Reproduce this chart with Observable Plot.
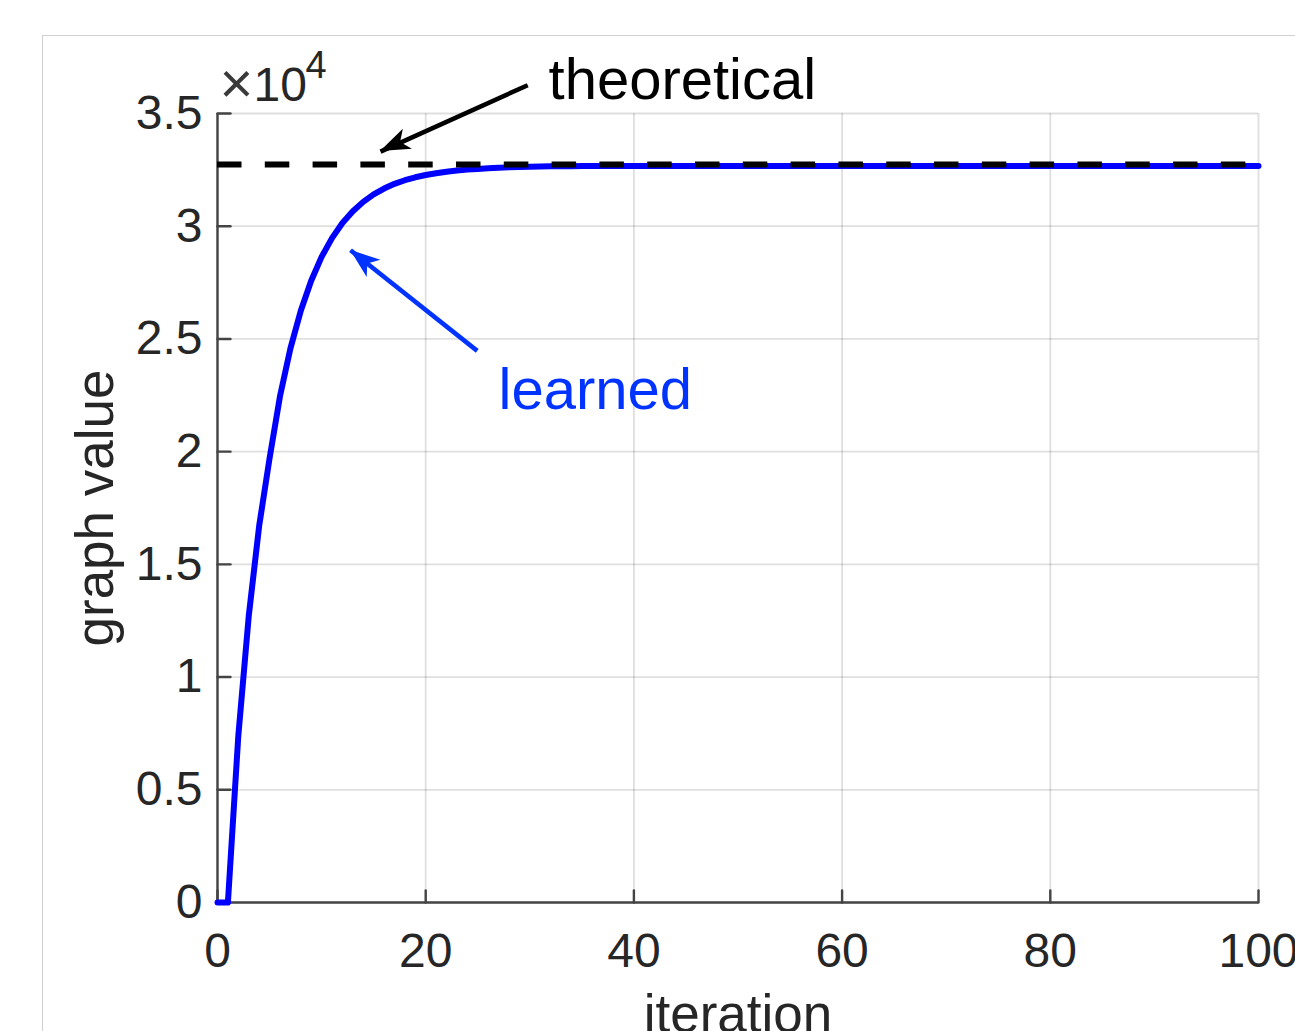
<!DOCTYPE html>
<html>
<head>
<meta charset="utf-8">
<script src="https://cdn.jsdelivr.net/npm/d3@7"></script>
<script src="https://cdn.jsdelivr.net/npm/@observablehq/plot@0.6"></script>
<style>
html, body { margin: 0; padding: 0; background: #fff; overflow: hidden; }
#wrap { position: relative; width: 1295px; height: 1031px; overflow: hidden; }
#frame { position: absolute; left: 42px; top: 35px; width: 1300px; height: 1100px;
  border-left: 1px solid #d0d0d0; border-top: 1px solid #d0d0d0; }
#chart { position: absolute; left: 0; top: 0; }
</style>
</head>
<body>
<div id="wrap"><div id="frame"></div><div id="chart"></div></div>
<script>
// ---- data ----
const iterations = [
  0,1,2,3,4,5,6,7,8,9,10,11,12,13,14,15,16,17,18,19,20,
  21,22,23,24,25,26,27,28,29,30,31,32,33,34,35,36,37,38,39,40,
  41,42,43,44,45,46,47,48,49,50,51,52,53,54,55,56,57,58,59,60,
  61,62,63,64,65,66,67,68,69,70,71,72,73,74,75,76,77,78,79,80,
  81,82,83,84,85,86,87,88,89,90,91,92,93,94,95,96,97,98,99,100
];
const learned = [
  0,0,7400,12700,16700,19700,22450,24570,26250,27580,28640,
  29470,30140,30660,31080,31410,31670,31880,32040,32170,32270,
  32350,32420,32470,32510,32540,32570,32590,32610,32625,32640,
  32650,32655,32660,32665,32670,32670,32670,32670,32670,32670,
  32670,32670,32670,32670,32670,32670,32670,32670,32670,32670,
  32670,32670,32670,32670,32670,32670,32670,32670,32670,32670,
  32670,32670,32670,32670,32670,32670,32670,32670,32670,32670,
  32670,32670,32670,32670,32670,32670,32670,32670,32670,32670,
  32670,32670,32670,32670,32670,32670,32670,32670,32670,32670,
  32670,32670,32670,32670,32670,32670,32670,32670,32670,32670
];
const theoretical = 32740;
const xTicks = [0, 20, 40, 60, 80, 100];
const yTicks = [0, 5000, 10000, 15000, 20000, 25000, 30000, 35000];
const xLabel = "iteration";
const yLabel = "graph value";
const exponentTimes = "×";
const exponentBase = "10";
const exponentPower = "4";
// annotations (data coordinates)
const annotLabels = ["theoretical", "learned"];
const annotTextX = [31.8, 27.0];
const annotTextY = [35640, 21900];
const annotTailX = [29.8, 24.95];
const annotTailY = [36256, 24470];
const annotTipX = [15.66, 12.78];
const annotTipY = [33310, 28932];
const annotColors = ["#000000", "#0033ff"];

// ---- build ----
const font = '"Liberation Sans", Helvetica, Arial, sans-serif';
const ink = "#262626";
const series = iterations.map((t, i) => ({t, v: learned[i]}));
const annots = annotLabels.map((label, i) => ({
  label, tx: annotTextX[i], ty: annotTextY[i],
  x1: annotTailX[i], y1: annotTailY[i], x2: annotTipX[i], y2: annotTipY[i],
  color: annotColors[i]
}));
const tickShape = {draw(context, l) { context.moveTo(0, 0); context.lineTo(0, -l); }};

const plot = Plot.plot({
  width: 1295,
  height: 1031,
  marginLeft: 217,
  marginRight: 37,
  marginTop: 113,
  marginBottom: 129,
  style: {fontFamily: font, background: "transparent", overflow: "visible"},
  x: {domain: [0, 100]},
  y: {domain: [0, 35000]},
  marks: [
    Plot.gridX(xTicks, {stroke: ink, strokeOpacity: 0.15, strokeWidth: 1.8}),
    Plot.gridY(yTicks, {stroke: ink, strokeOpacity: 0.15, strokeWidth: 1.8}),
    Plot.axisX(xTicks, {tickSize: 0, tickPadding: 30, fontSize: 48, fill: ink, label: null, tickFormat: d => String(d)}),
    Plot.axisY(yTicks, {tickSize: 0, tickPadding: 15, fontSize: 48, fill: ink, label: null, tickFormat: d => String(d / 1e4)}),
    Plot.ruleX([0], {stroke: "#444", strokeWidth: 2.4}),
    Plot.ruleY([0], {stroke: "#444", strokeWidth: 2.4}),
    Plot.vector(xTicks, {x: d => d, y: () => 0, length: 12, rotate: 0, anchor: "start", shape: tickShape, stroke: "#444", strokeWidth: 2.4}),
    Plot.vector(yTicks, {x: () => 0, y: d => d, length: 13, rotate: 90, anchor: "start", shape: tickShape, stroke: "#444", strokeWidth: 2.4}),
    Plot.line(series, {x: "t", y: "v", stroke: "#0000ff", strokeWidth: 6}),
    Plot.ruleY([theoretical], {x1: 0, x2: 100, stroke: "#000", strokeWidth: 6, strokeDasharray: "24.5,23.3"}),
    Plot.link(annots, {x1: "x1", y1: "y1", x2: "x2", y2: "y2", stroke: d => d.color, strokeWidth: 4.5}),
    Plot.text(annots, {x: "tx", y: "ty", text: "label", fill: d => d.color, fontSize: 58, textAnchor: "start", lineAnchor: "bottom"}),
    Plot.text([yLabel], {frameAnchor: "left", text: d => d, rotate: -90, dx: -105, lineAnchor: "bottom", textAnchor: "middle", fontSize: 53, fill: ink}),
    Plot.text([xLabel], {frameAnchor: "bottom", text: d => d, dy: 129, lineAnchor: "bottom", textAnchor: "middle", fontSize: 53, fill: ink}),
    Plot.text([exponentTimes], {frameAnchor: "top-left", text: d => d, dx: 2, dy: -11, lineAnchor: "bottom", textAnchor: "start", fontSize: 58, fill: "#3a3a3a", fontWeight: 300}),
    Plot.text([exponentBase], {frameAnchor: "top-left", text: d => d, dx: 36, dy: -13, lineAnchor: "bottom", textAnchor: "start", fontSize: 48, fill: ink}),
    Plot.text([exponentPower], {frameAnchor: "top-left", text: d => d, dx: 88, dy: -36, lineAnchor: "bottom", textAnchor: "start", fontSize: 38, fill: ink})
  ]
});

// filled arrow heads placed through the plot's own scales
const sx = plot.scale("x"), sy = plot.scale("y");
const svg = d3.select(plot);
annots.forEach(a => {
  const x1 = sx.apply(a.x1), y1 = sy.apply(a.y1), x2 = sx.apply(a.x2), y2 = sy.apply(a.y2);
  const dx = x2 - x1, dy = y2 - y1, len = Math.hypot(dx, dy);
  const ux = dx / len, uy = dy / len, px = -uy, py = ux;
  const L = 30, W = 11, N = 22;
  const pts = [
    [x2, y2],
    [x2 - ux * L + px * W, y2 - uy * L + py * W],
    [x2 - ux * N, y2 - uy * N],
    [x2 - ux * L - px * W, y2 - uy * L - py * W]
  ];
  svg.append("path").attr("d", "M" + pts.map(p => p.join(",")).join("L") + "Z").attr("fill", a.color);
});

document.getElementById("chart").appendChild(plot);
</script>
</body>
</html>
